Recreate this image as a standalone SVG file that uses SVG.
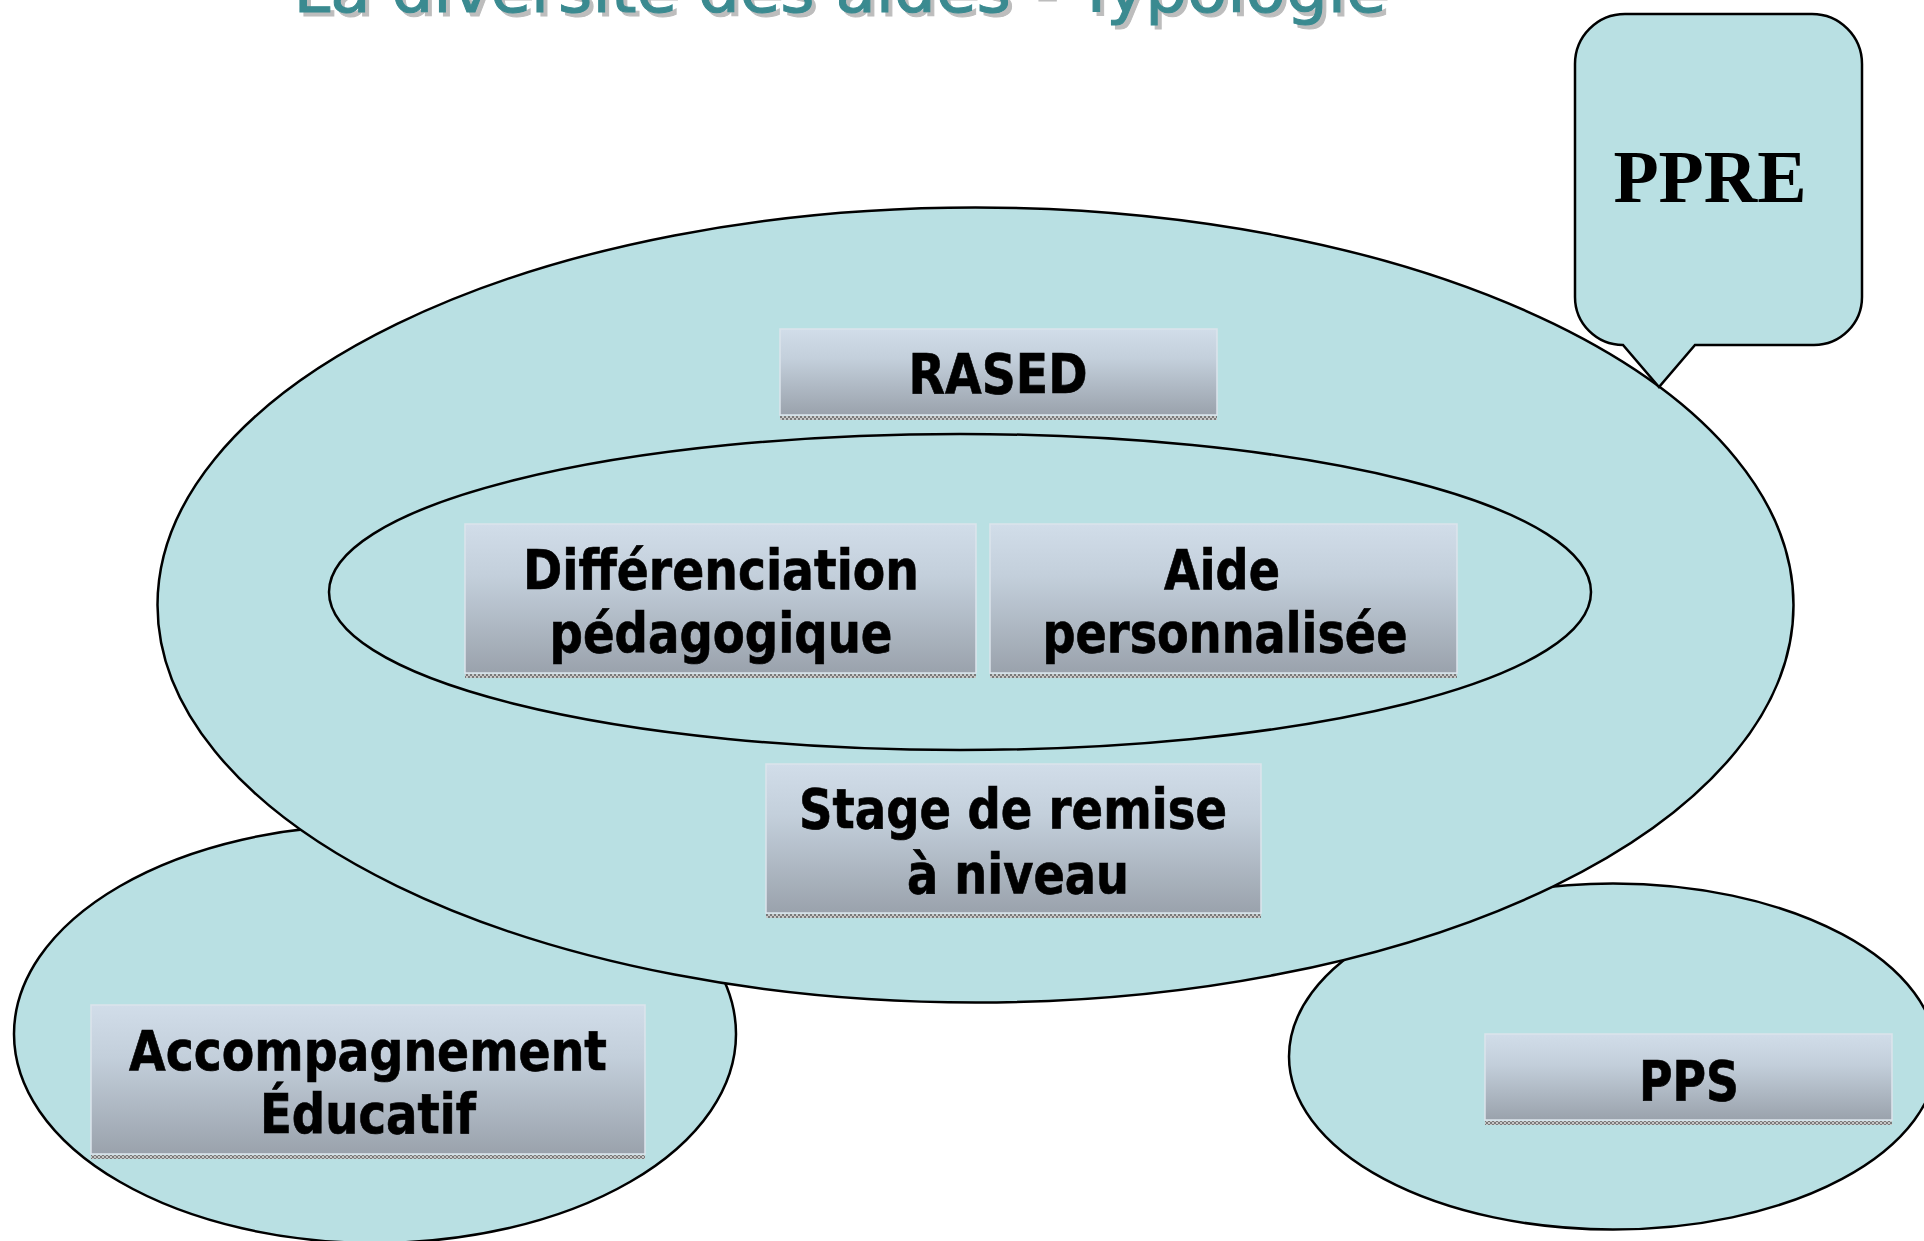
<svg xmlns="http://www.w3.org/2000/svg" width="1924" height="1241" viewBox="0 0 1924 1241">
  <style>
    .ell { fill: #B9E0E3; stroke: #000; stroke-width: 2.5; }
    .box { fill: url(#boxGrad); stroke: #DCE4EC; stroke-width: 1.5; }
    .strip { fill: url(#stripPat); }
    .lbl { font-family: "DejaVu Sans", Verdana, sans-serif; font-weight: bold; font-size: 55px; fill: #000; stroke: #000; stroke-width: 0.7; text-anchor: middle; }
    .title { font-family: "DejaVu Sans", Tahoma, sans-serif; font-size: 64px; text-anchor: middle; stroke-width: 1; }
    .ppre { font-family: "Liberation Serif", "Times New Roman", serif; font-weight: bold; font-size: 74px; fill: #000; text-anchor: middle; }
  </style>
  <defs>
    <linearGradient id="boxGrad" x1="0" y1="0" x2="0" y2="1">
      <stop offset="0" stop-color="#D1DDE9"/>
      <stop offset="0.35" stop-color="#C3CFDB"/>
      <stop offset="1" stop-color="#9AA2AC"/>
    </linearGradient>
    <pattern id="stripPat" x="0" y="0" width="4" height="4" patternUnits="userSpaceOnUse">
      <rect width="4" height="4" fill="#C8C8C8"/>
      <rect width="2" height="2" fill="#7A7A7A"/>
      <rect x="2" y="2" width="2" height="2" fill="#7A7A7A"/>
    </pattern>
  </defs>
  <rect width="1924" height="1241" fill="#FFFFFF"/>

  <g id="title">
    <text class="title" x="844" y="16" fill="#BDBDBD" stroke="#BDBDBD" textLength="1093" lengthAdjust="spacingAndGlyphs">La diversité des aides - Typologie</text>
    <text class="title" x="840" y="12" fill="#3A8A90" stroke="#3A8A90" textLength="1093" lengthAdjust="spacingAndGlyphs">La diversité des aides - Typologie</text>
  </g>

  <g id="accompagnement-ellipse">
    <ellipse class="ell" cx="375" cy="1034" rx="361" ry="209"/>
  </g>
  <g id="pps-ellipse">
    <ellipse class="ell" cx="1613" cy="1056.5" rx="324" ry="173"/>
  </g>
  <g id="outer-ellipse">
    <ellipse class="ell" cx="975.5" cy="605" rx="818" ry="397.5"/>
  </g>
  <g id="inner-ellipse">
    <ellipse class="ell" cx="960" cy="592" rx="631" ry="158"/>
  </g>

  <g id="rased">
    <rect class="box" x="780" y="329" width="437" height="86"/>
    <rect class="strip" x="780" y="416" width="437" height="4"/>
    <text class="lbl" x="998" y="393" textLength="179" lengthAdjust="spacingAndGlyphs">RASED</text>
  </g>

  <g id="differenciation">
    <rect class="box" x="465" y="524" width="511" height="149"/>
    <rect class="strip" x="465" y="674" width="511" height="4"/>
    <text class="lbl" x="721" y="589" textLength="396" lengthAdjust="spacingAndGlyphs">Différenciation</text>
    <text class="lbl" x="721" y="652" textLength="343" lengthAdjust="spacingAndGlyphs">pédagogique</text>
  </g>

  <g id="aide">
    <rect class="box" x="990" y="524" width="467" height="149"/>
    <rect class="strip" x="990" y="674" width="467" height="4"/>
    <text class="lbl" x="1222" y="589" textLength="116" lengthAdjust="spacingAndGlyphs">Aide</text>
    <text class="lbl" x="1225" y="652" textLength="365" lengthAdjust="spacingAndGlyphs">personnalisée</text>
  </g>

  <g id="stage">
    <rect class="box" x="766" y="764" width="495" height="149"/>
    <rect class="strip" x="766" y="914" width="495" height="4"/>
    <text class="lbl" x="1013" y="828" textLength="428" lengthAdjust="spacingAndGlyphs">Stage de remise</text>
    <text class="lbl" x="1018" y="893" textLength="222" lengthAdjust="spacingAndGlyphs">à niveau</text>
  </g>

  <g id="accompagnement">
    <rect class="box" x="91" y="1005" width="554" height="149"/>
    <rect class="strip" x="91" y="1155" width="554" height="4"/>
    <text class="lbl" x="368" y="1070" textLength="478" lengthAdjust="spacingAndGlyphs">Accompagnement</text>
    <text class="lbl" x="368" y="1133" textLength="216" lengthAdjust="spacingAndGlyphs">Éducatif</text>
  </g>

  <g id="pps">
    <rect class="box" x="1485" y="1034" width="407" height="86"/>
    <rect class="strip" x="1485" y="1121" width="407" height="4"/>
    <text class="lbl" x="1689" y="1100" textLength="100" lengthAdjust="spacingAndGlyphs">PPS</text>
  </g>

  <g id="ppre">
    <path class="ell" d="M1625,14 H1812 A50,50 0 0 1 1862,64 V297 A48,48 0 0 1 1814,345 H1695 L1659,387 L1623,345 A48,48 0 0 1 1575,297 V64 A50,50 0 0 1 1625,14 Z"/>
    <text class="ppre" x="1710" y="202">PPRE</text>
  </g>

  <g id="connectors"></g>
</svg>
